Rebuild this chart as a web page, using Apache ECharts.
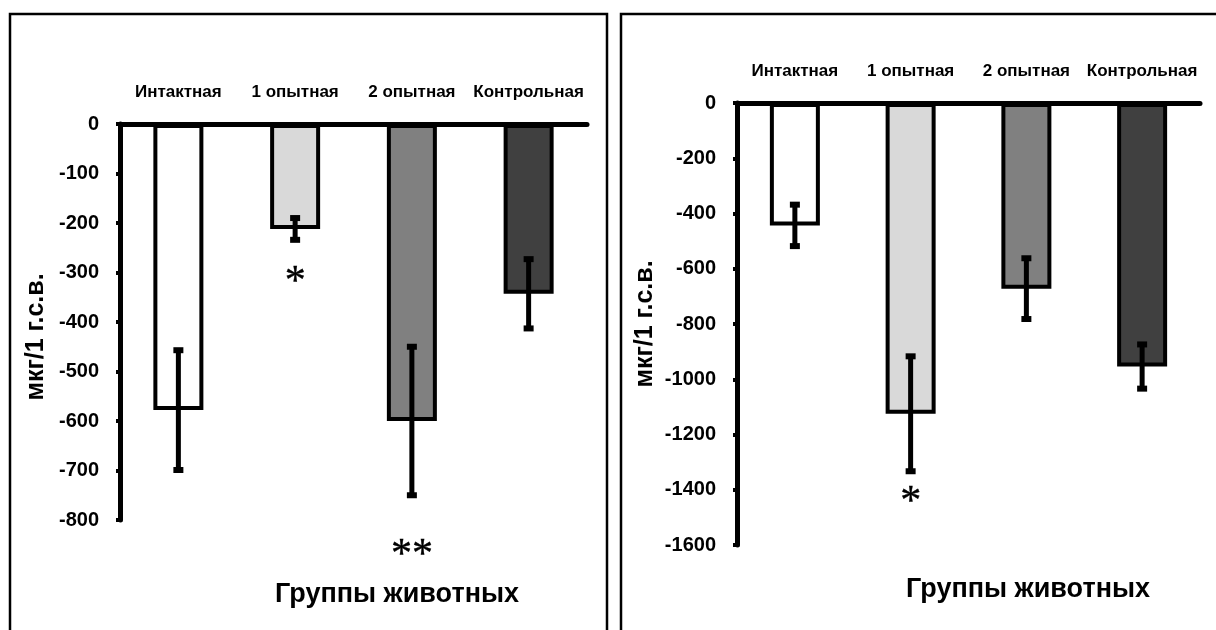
<!DOCTYPE html>
<html><head><meta charset="utf-8">
<script src="https://cdn.jsdelivr.net/npm/echarts@6/dist/echarts.min.js"></script>
<style>html,body{margin:0;padding:0;background:#fff}#c{width:1216px;height:630px}</style>
</head><body><div id="c"></div>
<script>
const categories = ['Интактная', '1 опытная', '2 опытная', 'Контрольная'];
const leftMeans = [-578, -212, -600, -343];
const leftErrors = [121, 22, 150, 70];
const rightMeans = [-443, -1125, -672, -954];
const rightErrors = [75, 208, 110, 80];
const barColors = ['#ffffff', '#d9d9d9', '#808080', '#404040'];
const leftAxisRange = [-800, 0, 100];
const rightAxisRange = [-1600, 0, 200];
const leftMarkCats = [1, 2];
const leftMarkValues = [-307, -859];
const leftMarkTexts = ['*', '**'];
const rightMarkCats = [1];
const rightMarkValues = [-1423];
const rightMarkTexts = ['*'];
const yTitle = 'мкг/1 г.с.в.';
const xTitle = 'Группы животных';

const FONT = 'Liberation Sans, Arial, sans-serif';

function errRender(params, api) {
  const i = api.value(0), m = api.value(1), e = api.value(2);
  const a = api.coord([i, m + e]);
  const b = api.coord([i, m - e]);
  return {
    type: 'group',
    children: [
      {type: 'line', shape: {x1: a[0], y1: a[1], x2: b[0], y2: b[1]}, style: {stroke: '#000', lineWidth: 5}},
      {type: 'rect', shape: {x: a[0] - 5, y: a[1] - 3, width: 10, height: 6}, style: {fill: '#000'}},
      {type: 'rect', shape: {x: b[0] - 5, y: b[1] - 3, width: 10, height: 6}, style: {fill: '#000'}}
    ]
  };
}
function markRender(params, api) {
  const p = api.coord([api.value(0), api.value(1)]);
  return {
    type: 'text',
    x: p[0], y: p[1] + 7,
    style: {text: api.value(2), fontFamily: 'Liberation Serif, Times New Roman, serif', fontSize: 42,
            fill: '#000', align: 'center', verticalAlign: 'middle', stroke: '#000', lineWidth: 0.4}
  };
}

function xAx(gi) {
  return {
    type: 'category', gridIndex: gi, data: categories, position: 'top',
    axisLine: {lineStyle: {color: '#000', width: 5}},
    axisTick: {show: false},
    axisLabel: {color: '#000', fontFamily: FONT, fontWeight: 'bold', fontSize: 17, margin: 23, interval: 0}
  };
}
function yAx(gi, r, gap, pad) {
  return {
    type: 'value', gridIndex: gi, min: r[0], max: r[1], interval: r[2],
    splitLine: {show: false},
    axisLine: {show: true, lineStyle: {color: '#000', width: 5}},
    axisTick: {show: true, length: 4, lineStyle: {color: '#000', width: 4}},
    axisLabel: {color: '#000', fontFamily: FONT, fontWeight: 'bold', fontSize: 20, margin: 21,
                formatter: v => String(v)},
    name: yTitle, nameLocation: 'middle', nameGap: gap, nameRotate: 90,
    nameTextStyle: {color: '#000', fontFamily: FONT, fontWeight: 'bold', fontSize: 25, padding: pad}
  };
}
function barSeries(gi, means) {
  return {
    type: 'bar', xAxisIndex: gi, yAxisIndex: gi, barWidth: 50,
    data: means.map((v, i) => ({value: v, itemStyle: {color: barColors[i]}})),
    itemStyle: {borderColor: '#000', borderWidth: 4},
    silent: true, z: 2
  };
}
function errSeries(gi, means, errs) {
  return {
    type: 'custom', xAxisIndex: gi, yAxisIndex: gi, renderItem: errRender,
    data: means.map((m, i) => [i, m, errs[i]]), z: 5, silent: true
  };
}
function markSeries(gi, cats, vals, texts) {
  return {
    type: 'custom', xAxisIndex: gi, yAxisIndex: gi, renderItem: markRender,
    data: cats.map((c, i) => [c, vals[i], texts[i]]), z: 5, silent: true
  };
}

const chart = echarts.init(document.getElementById('c'), null, {renderer: 'canvas'});
chart.setOption({
  animation: false,
  backgroundColor: '#fff',
  title: [
    {text: xTitle, left: 392, top: 576, textAlign: 'center',
     textStyle: {fontFamily: FONT, fontWeight: 'bold', fontSize: 27, color: '#000'}},
    {text: xTitle, left: 1023, top: 571, textAlign: 'center',
     textStyle: {fontFamily: FONT, fontWeight: 'bold', fontSize: 27, color: '#000'}}
  ],
  graphic: [
    {type: 'rect', shape: {x: 10, y: 14, width: 597, height: 660}, style: {fill: 'none', stroke: '#000', lineWidth: 2.5}, silent: true},
    {type: 'rect', shape: {x: 621, y: 14, width: 660, height: 660}, style: {fill: 'none', stroke: '#000', lineWidth: 2.5}, silent: true}
  ],
  grid: [
    {left: 120, top: 124, width: 467, height: 396},
    {left: 737, top: 103, width: 463, height: 442}
  ],
  xAxis: [xAx(0), xAx(1)],
  yAxis: [yAx(0, leftAxisRange, 71, [0, 30, 0, 0]), yAx(1, rightAxisRange, 79, [0, 0, 0, 0])],
  series: [
    barSeries(0, leftMeans), errSeries(0, leftMeans, leftErrors), markSeries(0, leftMarkCats, leftMarkValues, leftMarkTexts),
    barSeries(1, rightMeans), errSeries(1, rightMeans, rightErrors), markSeries(1, rightMarkCats, rightMarkValues, rightMarkTexts)
  ]
});
</script></body></html>
